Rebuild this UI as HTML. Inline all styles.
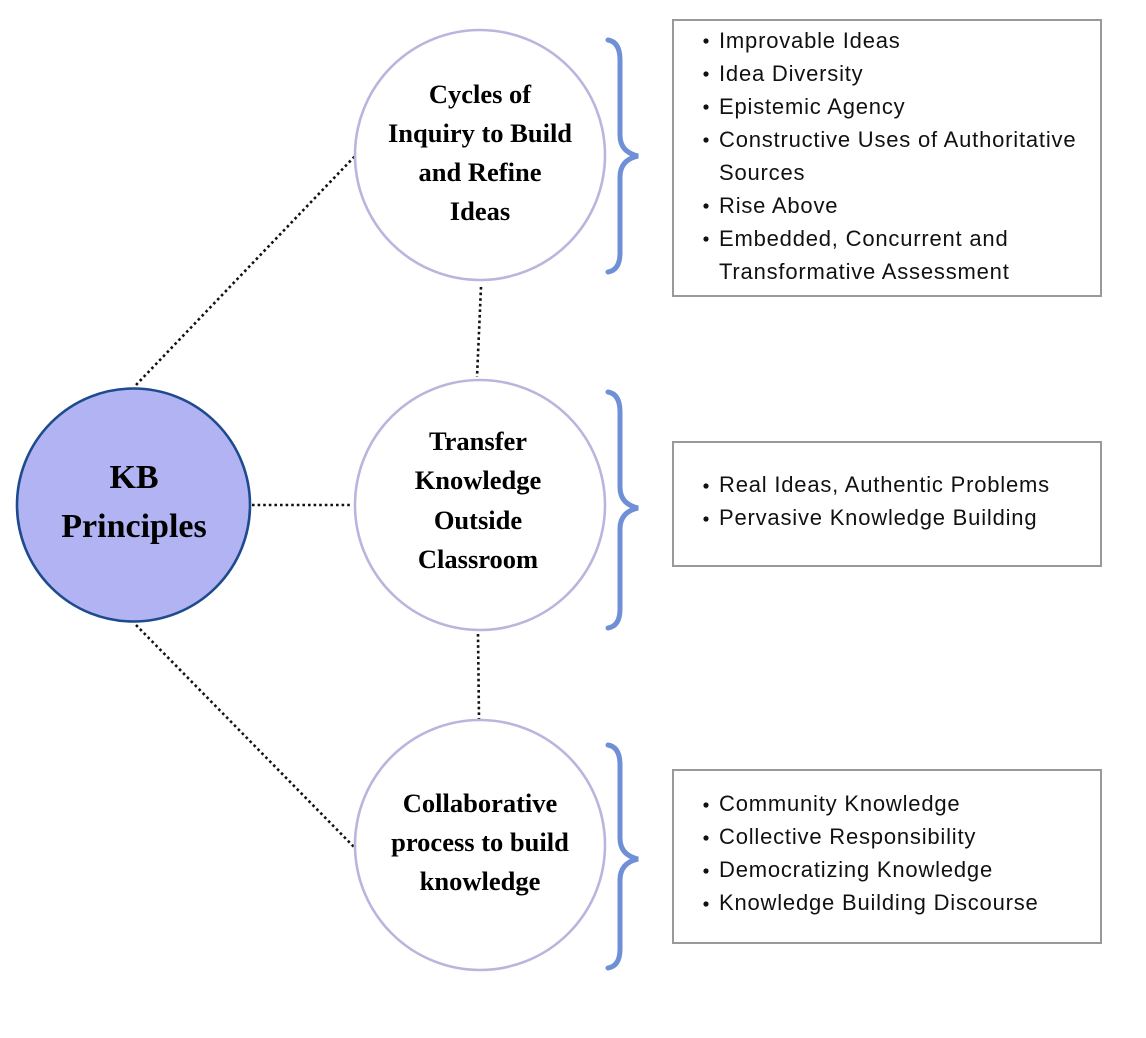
<!DOCTYPE html>
<html><head><meta charset="utf-8"><style>
html,body{margin:0;padding:0;background:#fff;}
</style></head><body>
<svg width="1146" height="1033" viewBox="0 0 1146 1033" xmlns="http://www.w3.org/2000/svg">
<g stroke="#111" stroke-width="2.6" stroke-dasharray="2.6 3" fill="none">
<line x1="136" y1="385" x2="356" y2="155"/>
<line x1="252" y1="505" x2="352" y2="505"/>
<line x1="136" y1="625" x2="354" y2="847"/>
<line x1="481" y1="287" x2="477" y2="377"/>
<line x1="478" y1="634" x2="479" y2="719"/>
</g>
<circle cx="133.5" cy="505" r="116.5" fill="#b1b3f3" stroke="#1e4a8e" stroke-width="2.6"/>
<g fill="#fff" stroke="#b8b6dc" stroke-width="2.6">
<circle cx="480" cy="155" r="125"/>
<circle cx="480" cy="505" r="125"/>
<circle cx="480" cy="845" r="125"/>
</g>
<g font-family="Liberation Serif, serif" font-weight="bold" text-anchor="middle" fill="#000">
<text x="134" y="488" font-size="34">KB</text>
<text x="134" y="537" font-size="34">Principles</text>
<g font-size="26.5">
<text x="480" y="103">Cycles of</text>
<text x="480" y="142">Inquiry to Build</text>
<text x="480" y="181">and Refine</text>
<text x="480" y="220">Ideas</text>
<text x="478" y="450">Transfer</text>
<text x="478" y="489">Knowledge</text>
<text x="478" y="529">Outside</text>
<text x="478" y="568">Classroom</text>
<text x="480" y="812">Collaborative</text>
<text x="480" y="851">process to build</text>
<text x="480" y="890">knowledge</text>
</g>
</g>
<g fill="none" stroke="#6f8fd6" stroke-width="5" stroke-linecap="round">
<path d="M608 40 Q620 42 620 60 L620 135 Q620 152 638 156 Q620 160 620 177 L620 253 Q620 270 608 272"/>
<path d="M608 392 Q620 394 620 412 L620 487 Q620 504 638 508 Q620 512 620 529 L620 609 Q620 626 608 628"/>
<path d="M608 745 Q620 747 620 765 L620 838 Q620 855 638 859 Q620 863 620 880 L620 949 Q620 966 608 968"/>
</g>
<g fill="#fff" stroke="#999" stroke-width="2">
<rect x="673" y="20" width="428" height="276"/>
<rect x="673" y="442" width="428" height="124"/>
<rect x="673" y="770" width="428" height="173"/>
</g>
<g font-family="Liberation Sans, sans-serif" font-size="22" letter-spacing="0.8" fill="#111">
<circle cx="706" cy="41" r="2.6"/><text x="719" y="48">Improvable Ideas</text>
<circle cx="706" cy="74" r="2.6"/><text x="719" y="81">Idea Diversity</text>
<circle cx="706" cy="107" r="2.6"/><text x="719" y="114">Epistemic Agency</text>
<circle cx="706" cy="140" r="2.6"/><text x="719" y="147">Constructive Uses of Authoritative</text>
<text x="719" y="180">Sources</text>
<circle cx="706" cy="206" r="2.6"/><text x="719" y="213">Rise Above</text>
<circle cx="706" cy="239" r="2.6"/><text x="719" y="246">Embedded, Concurrent and</text>
<text x="719" y="279">Transformative Assessment</text>
<circle cx="706" cy="486" r="2.6"/><text x="719" y="492">Real Ideas, Authentic Problems</text>
<circle cx="706" cy="519" r="2.6"/><text x="719" y="525">Pervasive Knowledge Building</text>
<circle cx="706" cy="805" r="2.6"/><text x="719" y="811">Community Knowledge</text>
<circle cx="706" cy="838" r="2.6"/><text x="719" y="844">Collective Responsibility</text>
<circle cx="706" cy="871" r="2.6"/><text x="719" y="877">Democratizing Knowledge</text>
<circle cx="706" cy="904" r="2.6"/><text x="719" y="910">Knowledge Building Discourse</text>
</g>
</svg>
</body></html>
